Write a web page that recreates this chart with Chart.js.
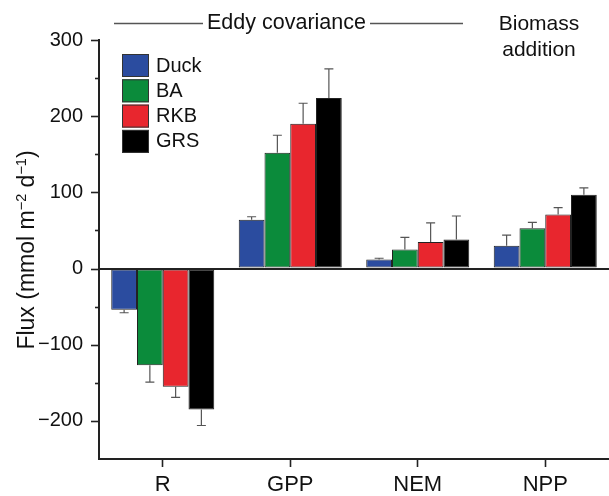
<!DOCTYPE html>
<html>
<head>
<meta charset="utf-8">
<script src="https://cdn.jsdelivr.net/npm/chart.js@4"></script>
<style>
  html, body { margin: 0; padding: 0; background: #fff; }
  #wrap { width: 609px; height: 496px; position: relative; }
</style>
</head>
<body>
<div id="wrap"><canvas id="c" width="609" height="496"></canvas></div>
<script>
// ---- data ----
const categories = ['R', 'GPP', 'NEM', 'NPP'];
const seriesNames = ['Duck', 'BA', 'RKB', 'GRS'];
const duckValues = [-54, 64, 12, 30];
const duckErrors = [4, 4, 1.5, 14];
const baValues = [-127, 152, 25, 53];
const baErrors = [22, 23, 16, 7.5];
const rkbValues = [-155, 190, 35, 71];
const rkbErrors = [14, 27, 25, 9];
const grsValues = [-185, 224, 38, 97];
const grsErrors = [21, 38, 31, 9];
const yMin = -250, yMax = 300, yStep = 50, yLabelStep = 100;
const yTitle = ['Flux (mmol m', '\u22122', ' d', '\u22121', ')'];
const topLabel = 'Eddy covariance';
const sideLabel = ['Biomass', 'addition'];

const colors = ['#2b4c9f', '#0b8b3b', '#e8262e', '#000000'];
const allValues = [duckValues, baValues, rkbValues, grsValues];
const allErrors = [duckErrors, baErrors, rkbErrors, grsErrors];

const datasets = seriesNames.map((n, i) => ({
  label: n,
  data: allValues[i],
  errors: allErrors[i],
  backgroundColor: colors[i],
  borderColor: '#222',
  borderWidth: 1,
  borderSkipped: false,
  categoryPercentage: 0.808,
  barPercentage: 1.0
}));

const FONT = '"Liberation Sans", Arial, sans-serif';

const errorBars = {
  id: 'errorBars',
  afterDatasetsDraw(chart) {
    const ctx = chart.ctx, y = chart.scales.y;
    ctx.save();
    ctx.strokeStyle = '#555';
    ctx.lineWidth = 1.2;
    chart.data.datasets.forEach((ds, i) => {
      const meta = chart.getDatasetMeta(i);
      meta.data.forEach((bar, j) => {
        const v = ds.data[j], e = ds.errors[j];
        const end = y.getPixelForValue(v + (v < 0 ? -e : e));
        ctx.beginPath();
        ctx.moveTo(bar.x, bar.y);
        ctx.lineTo(bar.x, end);
        ctx.moveTo(bar.x - 4.5, end);
        ctx.lineTo(bar.x + 4.5, end);
        ctx.stroke();
      });
    });
    ctx.restore();
  }
};

const decorations = {
  id: 'decorations',
  afterDraw(chart) {
    const ctx = chart.ctx, y = chart.scales.y, area = chart.chartArea;
    ctx.save();
    // y ticks
    ctx.strokeStyle = '#222';
    ctx.lineWidth = 1.6;
    for (let v = yMin + yStep; v <= yMax; v += yStep) {
      const py = Math.round(y.getPixelForValue(v)) + 0.5;
      const len = (v % yLabelStep === 0) ? 8 : 4;
      ctx.beginPath();
      ctx.moveTo(area.left - len, py);
      ctx.lineTo(area.left, py);
      ctx.stroke();
    }
    // legend
    ctx.textBaseline = 'middle';
    ctx.textAlign = 'left';
    ctx.font = '20px ' + FONT;
    chart.data.datasets.forEach((ds, i) => {
      const bx = 122, by = 54 + i * 25.3;
      ctx.fillStyle = ds.backgroundColor;
      ctx.fillRect(bx, by, 27, 23);
      ctx.strokeStyle = '#333';
      ctx.lineWidth = 1;
      ctx.strokeRect(bx + 0.5, by + 0.5, 26, 22);
      ctx.fillStyle = '#111';
      ctx.fillText(ds.label, 156, by + 12);
    });
    // top annotation
    ctx.font = '21.5px ' + FONT;
    ctx.textAlign = 'center';
    ctx.fillStyle = '#111';
    ctx.fillText(topLabel, 286.5, 23);
    ctx.strokeStyle = '#555';
    ctx.lineWidth = 1.5;
    ctx.beginPath();
    ctx.moveTo(114, 23.5); ctx.lineTo(203, 23.5);
    ctx.moveTo(370, 23.5); ctx.lineTo(463, 23.5);
    ctx.stroke();
    ctx.font = '21px ' + FONT;
    ctx.fillText(sideLabel[0], 539, 24);
    ctx.fillText(sideLabel[1], 539, 50);
    // y title with superscripts
    ctx.translate(26, 250);
    ctx.rotate(-Math.PI / 2);
    const big = '23px ' + FONT, small = '14.5px ' + FONT;
    const parts = yTitle.map((t, k) => ({ t, sup: k % 2 === 1 }));
    let total = 0;
    parts.forEach(p => { ctx.font = p.sup ? small : big; p.w = ctx.measureText(p.t).width; total += p.w; });
    let x = -total / 2;
    ctx.textAlign = 'left';
    ctx.textBaseline = 'alphabetic';
    parts.forEach(p => {
      ctx.font = p.sup ? small : big;
      ctx.fillText(p.t, x, p.sup ? 0 : 8);
      x += p.w;
    });
    ctx.restore();
  }
};

new Chart(document.getElementById('c'), {
  type: 'bar',
  data: { labels: categories, datasets },
  options: {
    responsive: false,
    animation: false,
    devicePixelRatio: 1,
    layout: { padding: { top: 40, left: 0, right: 0, bottom: 0 } },
    plugins: { legend: { display: false }, tooltip: { enabled: false } },
    scales: {
      x: {
        grid: { offset: false, drawOnChartArea: false, tickLength: 8, tickColor: '#222', tickWidth: 1.6 },
        border: { color: '#222', width: 2 },
        ticks: { color: '#111', font: { family: FONT, size: 22 }, padding: 5 },
        afterFit(s) { s.height = 37; }
      },
      y: {
        min: yMin, max: yMax,
        ticks: {
          stepSize: yStep,
          color: '#111',
          font: { family: FONT, size: 20 },
          padding: 16,
          callback: v => (v % yLabelStep === 0) ? String(v).replace('-', '\u2212') : ''
        },
        grid: {
          drawTicks: false,
          color: c => (c.tick && c.tick.value === 0) ? '#222' : 'rgba(0,0,0,0)',
          lineWidth: 2
        },
        border: { color: '#222', width: 2 },
        afterFit(s) { s.width = 99; }
      }
    }
  },
  plugins: [errorBars, decorations]
});
</script>
</body>
</html>
